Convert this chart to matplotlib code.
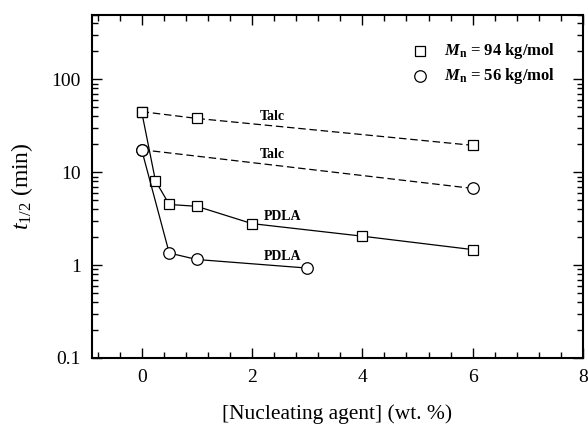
import matplotlib
matplotlib.use("Agg")
import matplotlib.pyplot as plt
from matplotlib.ticker import LogLocator, FixedLocator, MultipleLocator, FuncFormatter

plt.rcParams['font.family'] = ['Liberation Serif', 'DejaVu Serif']
plt.rcParams['mathtext.fontset'] = 'custom'
plt.rcParams['mathtext.rm'] = 'Liberation Serif'
plt.rcParams['mathtext.it'] = 'Liberation Serif:italic'
plt.rcParams['mathtext.bf'] = 'Liberation Serif:bold'
plt.rcParams['mathtext.bfit'] = 'Liberation Serif:bold:italic'

# Mn = 94 kg/mol
x94_pdla = [0, 0.25, 0.5, 1, 2, 4, 6]
t94_pdla = [45, 8.1, 4.5, 4.3, 2.8, 2.05, 1.47]
x94_talc = [0, 1, 6]
t94_talc = [45, 38, 19.5]

# Mn = 56 kg/mol
x56_pdla = [0, 0.5, 1, 3]
t56_pdla = [17.5, 1.35, 1.15, 0.93]
x56_talc = [0, 6]
t56_talc = [17.5, 6.7]

fig = plt.figure(figsize=(5.88, 4.29), dpi=100)
ax = fig.add_axes([92/588, 1 - 358/429, (583 - 92)/588, (358 - 14.5)/429])

mstyle = dict(markerfacecolor='white', markeredgecolor='black', markeredgewidth=0.9)
sq = dict(marker='s', ms=7.3, **mstyle)
ci = dict(marker='o', ms=8.3, **mstyle)
ax.plot(x94_talc, t94_talc, color='black', lw=0.9, ls=(0, (6, 3)), zorder=2, **sq)
ax.plot(x56_talc, t56_talc, color='black', lw=0.9, ls=(0, (6, 3)), zorder=2, **ci)
ax.plot(x94_pdla, t94_pdla, color='black', lw=0.9, ls='-', zorder=3, **sq)
ax.plot(x56_pdla, t56_pdla, color='black', lw=0.9, ls='-', zorder=3, **ci)

lab = dict(fontsize=10, fontweight='bold', ha='center', va='center')
ax.text(2.37, 40, 'Talc', **lab)
ax.text(2.37, 15.7, 'Talc', **lab)
ax.text(2.55, 3.3, 'PDLA', **lab)
ax.text(2.55, 1.24, 'PDLA', **lab)

# legend
ax.plot([5.05], [200], ls='none', **sq)
ax.plot([5.05], [108], ls='none', **ci)
ax.text(5.48, 200, r'$\boldsymbol{M}_{\mathbf{n}}$ = 94 kg/mol', fontsize=12, fontweight='bold', va='center')
ax.text(5.48, 108, r'$\boldsymbol{M}_{\mathbf{n}}$ = 56 kg/mol', fontsize=12, fontweight='bold', va='center')

ax.set_yscale('log')
ax.set_xlim(-0.9, 8)
ax.set_ylim(0.1, 500)
ax.xaxis.set_major_locator(FixedLocator([0, 2, 4, 6, 8]))
ax.xaxis.set_minor_locator(MultipleLocator(0.4))
ax.yaxis.set_major_locator(FixedLocator([0.1, 1, 10, 100]))
ax.yaxis.set_minor_locator(LogLocator(base=10, subs=range(2, 10)))
ax.yaxis.set_major_formatter(FuncFormatter(lambda v, p: f'{v:g}'))
ax.yaxis.set_minor_formatter(FuncFormatter(lambda v, p: ''))

ax.tick_params(which='both', direction='in', top=True, right=True, labelsize=14, width=1)
ax.tick_params(which='major', length=7, pad=8)
ax.tick_params(which='minor', length=4)
for s in ax.spines.values():
    s.set_linewidth(1.5)

ax.set_xlabel('[Nucleating agent] (wt. %)', fontsize=15.5, labelpad=13)
ax.set_ylabel(r'$t_{1/2}$ (min)', fontsize=17, labelpad=12)

fig.savefig('out.png', dpi=100)
